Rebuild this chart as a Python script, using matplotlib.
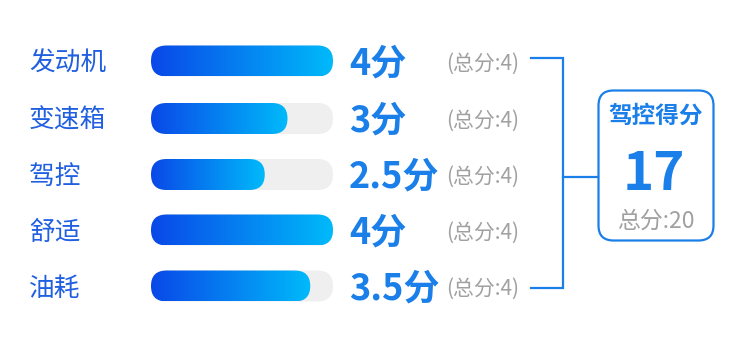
import numpy as np
import matplotlib
matplotlib.use('Agg')
import matplotlib.pyplot as plt
from matplotlib.patches import FancyBboxPatch
from matplotlib.colors import LinearSegmentedColormap

plt.rcParams['font.family'] = ['Noto Sans CJK SC', 'DejaVu Sans']

categories = ['发动机', '变速箱', '驾控', '舒适', '油耗']
scores = [4, 3, 2.5, 4, 3.5]
full_scores = [4, 4, 4, 4, 4]
score_labels = ['4分', '3分', '2.5分', '4分', '3.5分']
total_title = '驾控得分'
total_score = 17
total_full = 20

BLUE = '#1a7fe8'
LABEL_BLUE = '#1f5fe0'
GRAY = '#a0a0a0'
grad = LinearSegmentedColormap.from_list('g', ['#0a48e8', '#00bafa'])

fig = plt.figure(figsize=(7.5, 3.39), dpi=100)
ax = fig.add_axes([0, 0, 1, 1])
ax.set_xlim(0, 750)
ax.set_ylim(339, 0)
ax.axis('off')

rows_y = [61, 118.5, 174.5, 230, 286]
x0, track_w, bar_h = 151, 182, 31

for i, cat in enumerate(categories):
    y = rows_y[i]
    ax.text(29, y + 2.5, cat, fontsize=18.5, color=LABEL_BLUE, va='center', ha='left')
    track = FancyBboxPatch((x0, y - bar_h / 2), track_w, bar_h,
                           boxstyle='round,pad=0,rounding_size=15.5',
                           fc='#efefef', ec='none')
    ax.add_patch(track)
    w = scores[i] / full_scores[i] * track_w
    fill = FancyBboxPatch((x0, y - bar_h / 2), w, bar_h,
                          boxstyle='round,pad=0,rounding_size=15.5',
                          fc='none', ec='none')
    ax.add_patch(fill)
    im = ax.imshow(np.linspace(0, 1, 256).reshape(1, -1), cmap=grad, aspect='auto',
                   extent=(x0, x0 + w, y + bar_h / 2, y - bar_h / 2), zorder=2)
    im.set_clip_path(fill)
    ax.text(349, y + 3, score_labels[i], fontsize=26, color=BLUE,
            fontweight='bold', va='center', ha='left')
    ax.text(446, y + 2.5, '(总分:%d)' % full_scores[i], fontsize=15, color=GRAY,
            va='center', ha='left')

# bracket
top, bot = rows_y[0] - 3, rows_y[-1] + 2
mid = 177
ax.plot([531, 563, 563, 531], [top, top, bot, bot], color=BLUE, lw=1.6,
        solid_joinstyle='miter')
ax.plot([563, 598], [mid, mid], color=BLUE, lw=1.6)

box = FancyBboxPatch((598.5, 90.5), 115, 150, boxstyle='round,pad=0,rounding_size=15',
                     fc='white', ec=BLUE, lw=1.6)
ax.add_patch(box)
ax.text(656, 116, total_title, fontsize=17, color=BLUE, fontweight='bold',
        ha='center', va='center')
ax.text(654, 175, str(total_score), fontsize=38, color=BLUE, fontweight='bold',
        ha='center', va='center')
ax.text(656, 221, '总分:%d' % total_full, fontsize=16.5, color=GRAY,
        ha='center', va='center')

fig.savefig('out.png', dpi=100)
